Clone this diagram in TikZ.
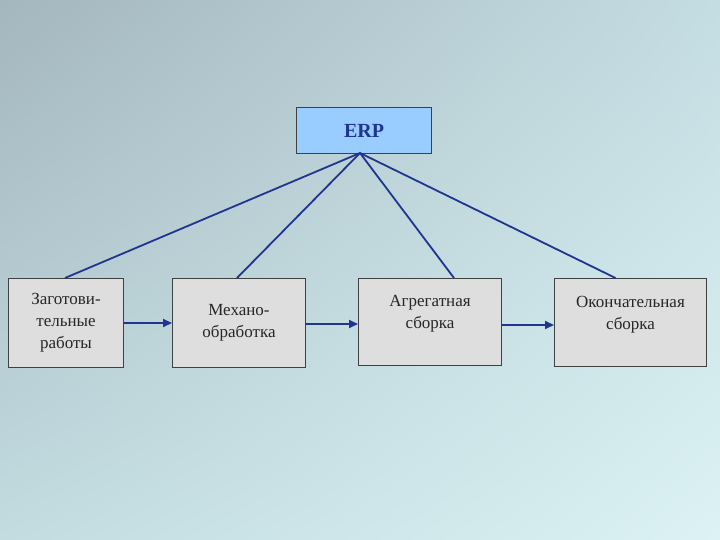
\documentclass[tikz,border=0pt]{standalone}
\usepackage{fontspec}
\setmainfont{Liberation Serif}
\usetikzlibrary{arrows.meta,shadings}
\definecolor{navy}{HTML}{1F3590}
\definecolor{erpfill}{HTML}{99CCFF}
\definecolor{ul}{HTML}{A4B6BE}
\definecolor{ur}{HTML}{C4DDE2}
\definecolor{ll}{HTML}{C2DCE0}
\definecolor{lr}{HTML}{DCF2F4}
\tikzset{
  box/.style={draw=black!75, fill=black!13, line width=1pt, align=center, font=\fontsize{17}{22}\selectfont, text=black!85, inner sep=0pt, anchor=north west},
  link/.style={draw=navy, line width=1.8pt},
  arr/.style={link, -{Triangle[length=9pt,width=8pt]}}
}
\begin{document}
\begin{tikzpicture}[x=1pt,y=-1pt]
\useasboundingbox (0,0) rectangle (720,540);
\shade[upper left=ul, upper right=ur, lower left=ll, lower right=lr] (0,0) rectangle (720,540);
\node[box, fill=erpfill, minimum width=135pt, minimum height=46pt, font=\bfseries\fontsize{20}{24}\selectfont, text=navy] (erp) at (296,107) {ERP};
\node[box, minimum width=115pt, minimum height=89pt] (b1) at (8,278) {Заготови-\\тельные\\работы};
\node[box, minimum width=133pt, minimum height=89pt] (b2) at (172,278) {Механо-\\обработка};
\node[box, minimum width=143pt, minimum height=87pt, text depth=20pt] (b3) at (358,278) {Агрегатная\\сборка};
\node[box, minimum width=152pt, minimum height=88pt, text depth=20pt] (b4) at (554,278) {Окончательная\\сборка};
\coordinate (c) at (360,153);
\draw[link] (c) -- ([xshift=-1pt]b1.north);
\draw[link] (c) -- ([xshift=-2pt]b2.north);
\draw[link] (c) -- ([xshift=24pt]b3.north);
\draw[link] (c) -- ([xshift=-15pt]b4.north);
\draw[arr] (b1.east) -- (b2.west);
\draw[arr] ([yshift=-1pt]b2.east) -- ([yshift=-1pt]b2.east -| b3.west);
\draw[arr] ([yshift=-3pt]b3.east) -- ([yshift=-3pt]b3.east -| b4.west);
\end{tikzpicture}
\end{document}
